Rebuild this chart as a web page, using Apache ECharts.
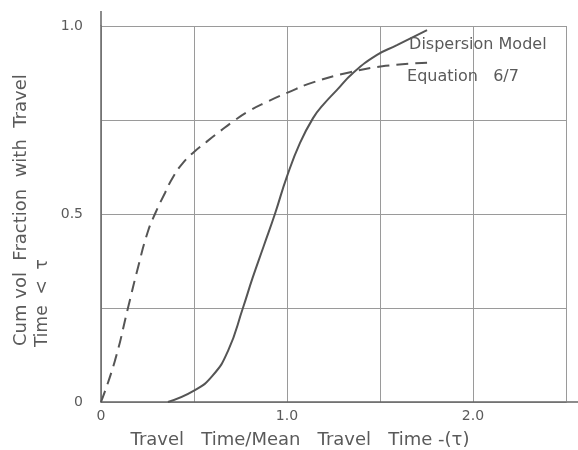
<!DOCTYPE html>
<html>
<head>
<meta charset="utf-8">
<script src="https://cdn.jsdelivr.net/npm/echarts@6/dist/echarts.min.js"></script>
<style>html,body{margin:0;padding:0;background:#fff}#c{width:578px;height:450px}</style>
</head>
<body>
<div id="c"></div>
<script>
// Dispersion model (solid curve): [tau, cumulative fraction]
const dispersionModel = [
  [0.36, 0], [0.5, 0.03], [0.6, 0.07], [0.683, 0.136], [0.763, 0.25],
  [0.815, 0.33], [0.875, 0.415], [0.935, 0.5], [1.0, 0.6], [1.07, 0.689],
  [1.14, 0.755], [1.194, 0.79], [1.269, 0.83], [1.355, 0.875], [1.484, 0.923],
  [1.591, 0.949], [1.753, 0.989]
];
// Equation 6/7 (dashed curve)
const equation67 = [
  [0, 0], [0.075, 0.11], [0.145, 0.25], [0.2, 0.36], [0.25, 0.45],
  [0.29, 0.5], [0.344, 0.556], [0.387, 0.598], [0.441, 0.636], [0.5, 0.665],
  [0.565, 0.691], [0.64, 0.72], [0.71, 0.746], [0.8, 0.775], [0.887, 0.797],
  [1.0, 0.822], [1.14, 0.85], [1.34, 0.877], [1.53, 0.894], [1.753, 0.902]
];
const xTickLabels = ['0', '1.0', '2.0'];
const yTickLabels = ['0', '0.5', '1.0'];
const xTitle = 'Travel   Time/Mean   Travel   Time -(\u03c4)';
const yTitle1 = 'Cum vol  Fraction  with  Travel';
const yTitle2 = 'Time  <  \u03c4';

const FONT = 'DejaVu Sans';
const TXT = '#5a5a5a';
const LINE = '#555';
const GRIDC = '#9a9a9a';

const chart = echarts.init(document.getElementById('c'), null, {renderer: 'canvas'});
const G = {left: 101, right: 12, top: 26, bottom: 48};

function fmt(v, list) {
  const s = v === 0 ? '0' : v.toFixed(1);
  return list.indexOf(s) >= 0 ? s : '';
}

chart.setOption({
  animation: false,
  backgroundColor: '#fff',
  grid: G,
  xAxis: {
    type: 'value', min: 0, max: 2.5, interval: 0.5,
    axisLine: {show: true, lineStyle: {color: '#666', width: 1.5}},
    axisTick: {show: false},
    splitLine: {show: true, lineStyle: {color: GRIDC, width: 1}},
    axisLabel: {
      formatter: v => fmt(v, xTickLabels),
      color: TXT, fontFamily: FONT, fontSize: 14, margin: 7
    }
  },
  yAxis: {
    type: 'value', min: 0, max: 1, interval: 0.25,
    axisLine: {show: true, lineStyle: {color: '#666', width: 1.5}},
    axisTick: {show: false},
    splitLine: {show: true, lineStyle: {color: GRIDC, width: 1}},
    axisLabel: {
      formatter: v => fmt(v, yTickLabels),
      color: TXT, fontFamily: FONT, fontSize: 14, margin: 18
    }
  },
  series: [
    {
      name: 'Dispersion Model', type: 'line', data: dispersionModel,
      smooth: 0.5, showSymbol: false,
      lineStyle: {color: LINE, width: 2},
      endLabel: {show: true, formatter: '{a}', color: TXT, fontFamily: FONT, fontSize: 16,
                 align: 'left', verticalAlign: 'middle', offset: [-26, 15]}
    },
    {
      name: 'Equation   6/7', type: 'line', data: equation67,
      smooth: 0.5, showSymbol: false,
      lineStyle: {color: LINE, width: 2, type: [12, 7]},
      endLabel: {show: true, formatter: '{a}', color: TXT, fontFamily: FONT, fontSize: 16,
                 align: 'left', verticalAlign: 'middle', offset: [-28, 14]}
    }
  ],
  graphic: [
    {type: 'line', shape: {x1: 101, y1: G.top, x2: 101, y2: 11}, style: {stroke: '#666', lineWidth: 1.5}},
    {type: 'line', shape: {x1: 578 - G.right, y1: 450 - G.bottom, x2: 578, y2: 450 - G.bottom}, style: {stroke: '#666', lineWidth: 1.5}},
    {type: 'text', x: 300, y: 440, style: {text: xTitle, fill: TXT, font: '18px "' + FONT + '"', align: 'center', verticalAlign: 'middle'}},
    {type: 'text', x: 21, y: 346, rotation: Math.PI / 2, style: {text: yTitle1, fill: TXT, font: '18px "' + FONT + '"', align: 'left', verticalAlign: 'middle'}},
    {type: 'text', x: 43, y: 347, rotation: Math.PI / 2, style: {text: yTitle2, fill: TXT, font: '17px "' + FONT + '"', align: 'left', verticalAlign: 'middle'}}
  ]
});
</script>
</body>
</html>
